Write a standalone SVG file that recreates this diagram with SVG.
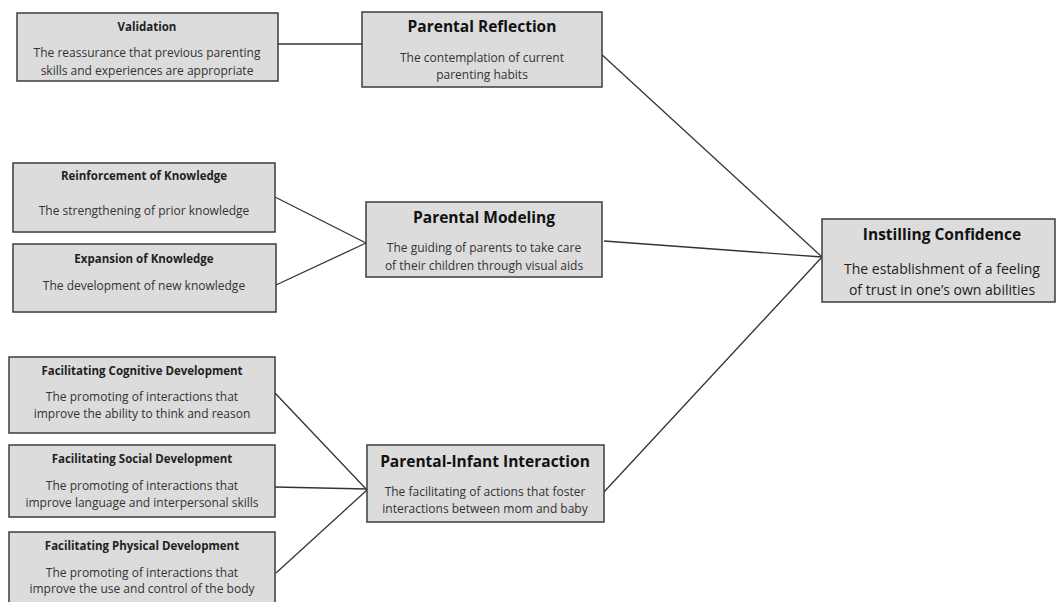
<svg xmlns="http://www.w3.org/2000/svg" width="1057" height="602" viewBox="0 0 1057 602">
<style>
.box{fill:#dcdcdc;stroke:#3c3c3c;stroke-width:1.5}
.t{font-family:"Open Sans","Liberation Sans",sans-serif;font-weight:bold;font-size:11.5px;fill:#222;text-anchor:middle}
.T{font-family:"Open Sans","Liberation Sans",sans-serif;font-weight:bold;font-size:15.5px;fill:#111;text-anchor:middle}
.b{font-family:"Open Sans","Liberation Sans",sans-serif;font-size:12px;fill:#333;text-anchor:middle}
.B{font-family:"Open Sans","Liberation Sans",sans-serif;font-size:14px;fill:#222;text-anchor:middle}
.c{stroke:#333;stroke-width:1.3;fill:none}
</style>
<rect width="1057" height="602" fill="#fff"/>
<g id="connectors">
<line class="c" x1="278" y1="44" x2="362" y2="44"/>
<line class="c" x1="600" y1="53" x2="822" y2="257"/>
<line class="c" x1="275" y1="197" x2="366" y2="243"/>
<line class="c" x1="276" y1="285" x2="366" y2="243"/>
<line class="c" x1="604" y1="241" x2="822" y2="257"/>
<line class="c" x1="275" y1="393" x2="367" y2="490"/>
<line class="c" x1="275" y1="487" x2="367" y2="489"/>
<line class="c" x1="276" y1="573" x2="367" y2="490"/>
<line class="c" x1="604" y1="492" x2="822" y2="257"/>
</g>
<g id="validation">
<rect class="box" x="17" y="13" width="261" height="68"/>
<text class="t" x="147" y="31">Validation</text>
<text class="b" x="147" y="57">The reassurance that previous parenting</text>
<text class="b" x="147" y="75">skills and experiences are appropriate</text>
</g>
<g id="parental-reflection">
<rect class="box" x="362" y="12" width="240" height="75"/>
<text class="T" x="482" y="32">Parental Reflection</text>
<text class="b" x="482" y="62">The contemplation of current</text>
<text class="b" x="482" y="79">parenting habits</text>
</g>
<g id="reinforcement">
<rect class="box" x="13" y="163" width="262" height="69"/>
<text class="t" x="144" y="180">Reinforcement of Knowledge</text>
<text class="b" x="144" y="215">The strengthening of prior knowledge</text>
</g>
<g id="expansion">
<rect class="box" x="13" y="244" width="263" height="68"/>
<text class="t" x="144" y="263">Expansion of Knowledge</text>
<text class="b" x="144" y="290">The development of new knowledge</text>
</g>
<g id="parental-modeling">
<rect class="box" x="366" y="202" width="236" height="75"/>
<text class="T" x="484" y="223">Parental Modeling</text>
<text class="b" x="484" y="252">The guiding of parents to take care</text>
<text class="b" x="484" y="270">of their children through visual aids</text>
</g>
<g id="instilling-confidence">
<rect class="box" x="822" y="219" width="233" height="83"/>
<text class="T" x="942" y="240">Instilling Confidence</text>
<text class="B" x="942" y="274">The establishment of a feeling</text>
<text class="B" x="942" y="295">of trust in one’s own abilities</text>
</g>
<g id="cognitive">
<rect class="box" x="9" y="357" width="266" height="76"/>
<text class="t" x="142" y="375">Facilitating Cognitive Development</text>
<text class="b" x="142" y="401">The promoting of interactions that</text>
<text class="b" x="142" y="418">improve the ability to think and reason</text>
</g>
<g id="social">
<rect class="box" x="9" y="445" width="266" height="72"/>
<text class="t" x="142" y="463">Facilitating Social Development</text>
<text class="b" x="142" y="490">The promoting of interactions that</text>
<text class="b" x="142" y="507">improve language and interpersonal skills</text>
</g>
<g id="physical">
<rect class="box" x="9" y="532" width="266" height="80"/>
<text class="t" x="142" y="550">Facilitating Physical Development</text>
<text class="b" x="142" y="577">The promoting of interactions that</text>
<text class="b" x="142" y="593">improve the use and control of the body</text>
</g>
<g id="parental-infant">
<rect class="box" x="367" y="445" width="237" height="77"/>
<text class="T" x="485" y="467">Parental-Infant Interaction</text>
<text class="b" x="485" y="496">The facilitating of actions that foster</text>
<text class="b" x="485" y="513">interactions between mom and baby</text>
</g>
</svg>
